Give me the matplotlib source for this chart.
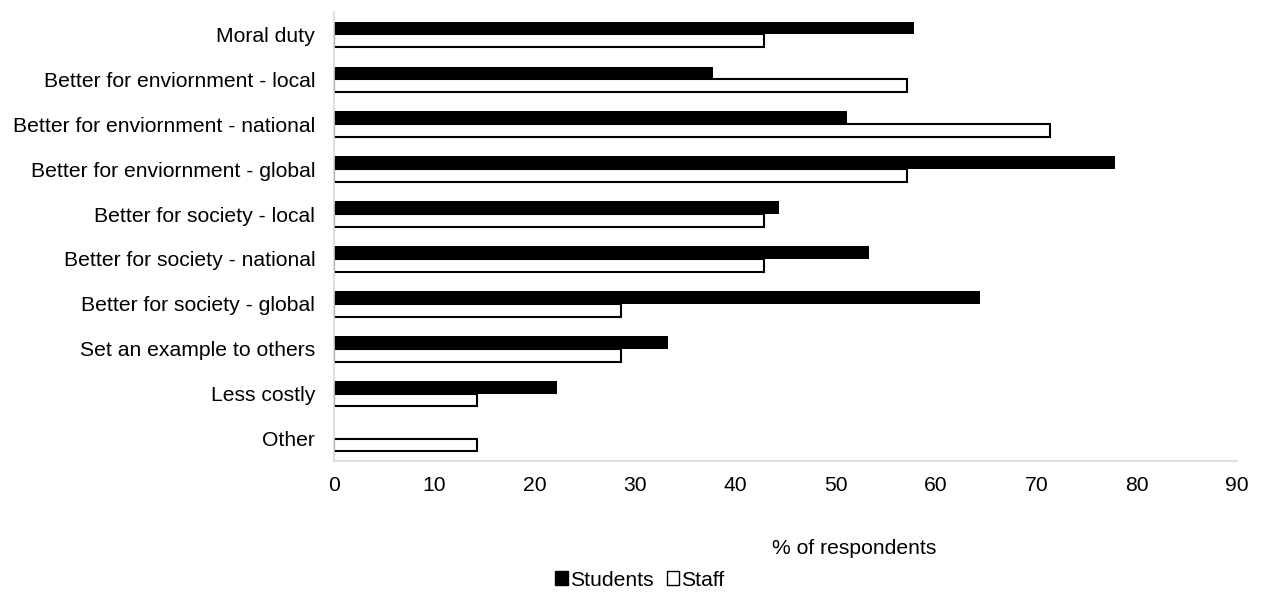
import matplotlib
matplotlib.use("Agg")
import matplotlib.pyplot as plt
from matplotlib.patches import Patch
import numpy as np

plt.rcParams['font.family'] = ['Liberation Sans', 'DejaVu Sans']

categories = [
    "Moral duty",
    "Better for enviornment - local",
    "Better for enviornment - national",
    "Better for enviornment - global",
    "Better for society - local",
    "Better for society - national",
    "Better for society - global",
    "Set an example to others",
    "Less costly",
    "Other",
]
students = [57.8, 37.8, 51.1, 77.8, 44.4, 53.3, 64.4, 33.3, 22.2, 0.0]
staff = [42.9, 57.1, 71.4, 57.1, 42.9, 42.9, 28.6, 28.6, 14.3, 14.3]
xticks = [0, 10, 20, 30, 40, 50, 60, 70, 80, 90]

FS = 15.2

fig = plt.figure(figsize=(12.63, 5.94), dpi=100)
ax = fig.add_axes([334/1263, 1-461/594, (1237-334)/1263, (461-12)/594])

y = np.arange(len(categories))
h = 0.285
ax.barh(y - h/2, students, height=h, color='black', edgecolor='none', linewidth=0, label='Students')
ax.barh(y + h/2, staff, height=h, color='white', edgecolor='black', linewidth=1.5, label='Staff')

ax.set_ylim(len(categories) - 0.5, -0.5)
ax.set_xlim(0, 90)
ax.set_xticks(xticks)
ax.set_xticklabels([str(t) for t in xticks])
ax.set_yticks(y)
ax.set_yticklabels(categories)
ax.tick_params(axis='both', length=0, labelsize=FS, colors='#000000')
ax.tick_params(axis='x', pad=11)
ax.tick_params(axis='y', pad=13.5)
for s in ['top', 'right']:
    ax.spines[s].set_visible(False)
for s in ['left', 'bottom']:
    ax.spines[s].set_color('#d9d9d9')
    ax.spines[s].set_linewidth(1.2)

fig.text(854/1263, 1-548/594, "% of respondents", ha='center', va='center', fontsize=FS)

handles = [Patch(facecolor='black', edgecolor='black', label='Students'),
           Patch(facecolor='white', edgecolor='black', linewidth=1.0, label='Staff')]
fig.legend(handles=handles, loc='center', bbox_to_anchor=(640/1263, 1-580/594), ncol=2,
           frameon=False, fontsize=FS, handlelength=0.6, handleheight=0.6,
           handletextpad=0.1, columnspacing=0.6)

fig.savefig("out.png", dpi=100)
